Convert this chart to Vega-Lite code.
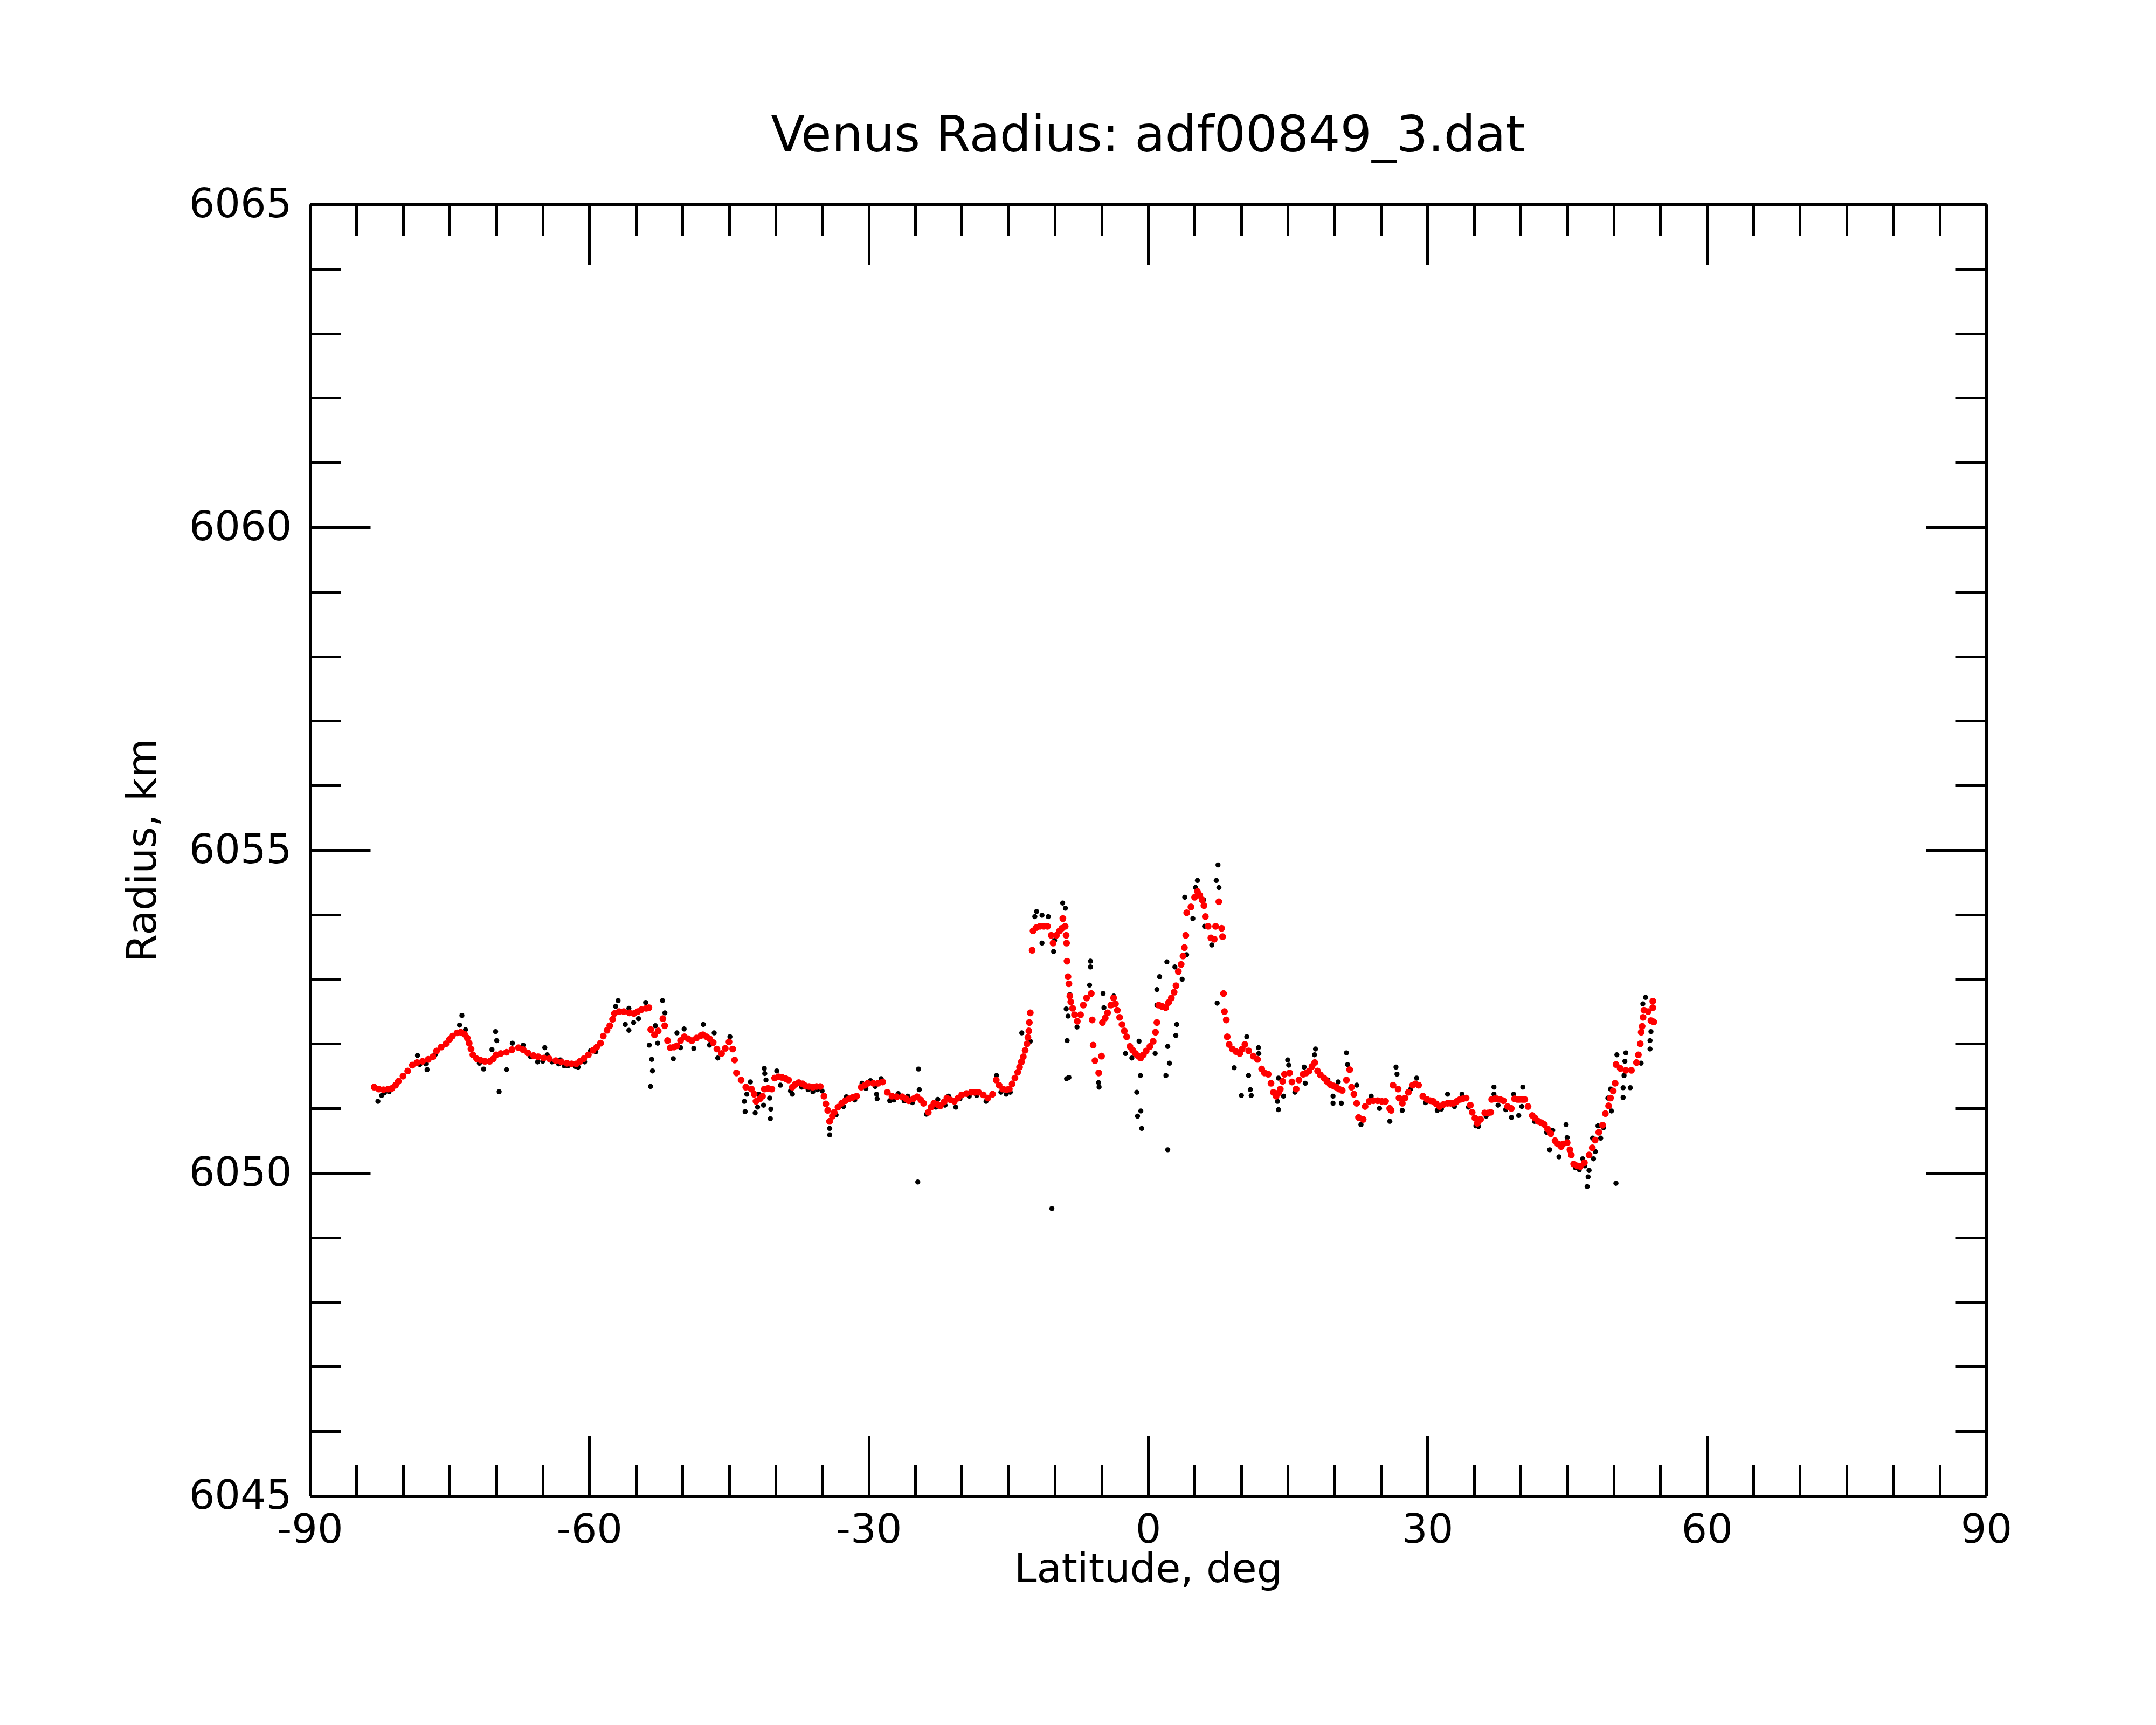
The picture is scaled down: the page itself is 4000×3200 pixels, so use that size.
{
  "$schema": "https://vega.github.io/schema/vega-lite/v6.json",
  "autosize": {"type": "none"},
  "width": 3110,
  "height": 2396,
  "padding": {"left": 575, "top": 379, "right": 315, "bottom": 425},
  "background": "white",
  "title": {"text": "Venus Radius: adf00849_3.dat", "font": "DejaVu Sans", "fontSize": 92, "fontWeight": "normal", "color": "black", "anchor": "middle", "baseline": "alphabetic", "offset": -31},
  "datasets": {
    "raw": [
      {"lat": -82.7, "radius": 6051.11}, {"lat": -82.3, "radius": 6051.2}, {"lat": -82.0, "radius": 6051.24}, {"lat": -81.5, "radius": 6051.26},
      {"lat": -78.45, "radius": 6051.82}, {"lat": -77.55, "radius": 6051.69}, {"lat": -77.42, "radius": 6051.6}, {"lat": -78.2, "radius": 6051.68},
      {"lat": -76.5, "radius": 6051.84}, {"lat": -73.68, "radius": 6052.44}, {"lat": -73.93, "radius": 6052.29}, {"lat": -73.29, "radius": 6052.22},
      {"lat": -71.35, "radius": 6051.61}, {"lat": -71.8, "radius": 6051.7}, {"lat": -70.06, "radius": 6052.19}, {"lat": -69.94, "radius": 6052.05},
      {"lat": -70.45, "radius": 6051.91}, {"lat": -69.68, "radius": 6051.26}, {"lat": -68.9, "radius": 6051.6}, {"lat": -68.26, "radius": 6052.01},
      {"lat": -67.1, "radius": 6051.98}, {"lat": -64.78, "radius": 6051.94}, {"lat": -64.52, "radius": 6051.83}, {"lat": -65.55, "radius": 6051.72},
      {"lat": -63.1, "radius": 6051.75}, {"lat": -62.3, "radius": 6051.66}, {"lat": -61.5, "radius": 6051.65}, {"lat": -59.88, "radius": 6051.89},
      {"lat": -56.91, "radius": 6052.67}, {"lat": -57.17, "radius": 6052.58}, {"lat": -56.14, "radius": 6052.3}, {"lat": -55.75, "radius": 6052.21},
      {"lat": -55.75, "radius": 6052.55}, {"lat": -55.24, "radius": 6052.33}, {"lat": -54.72, "radius": 6052.39}, {"lat": -53.95, "radius": 6052.64},
      {"lat": -53.56, "radius": 6051.98}, {"lat": -53.3, "radius": 6051.76}, {"lat": -53.22, "radius": 6051.58}, {"lat": -53.43, "radius": 6051.34},
      {"lat": -52.14, "radius": 6052.67}, {"lat": -51.88, "radius": 6052.48}, {"lat": -52.66, "radius": 6052.01}, {"lat": -52.91, "radius": 6052.28},
      {"lat": -50.98, "radius": 6051.77}, {"lat": -50.59, "radius": 6052.17}, {"lat": -49.82, "radius": 6052.23}, {"lat": -50.2, "radius": 6051.94},
      {"lat": -48.78, "radius": 6051.93}, {"lat": -47.76, "radius": 6052.3}, {"lat": -46.98, "radius": 6052.0}, {"lat": -46.59, "radius": 6052.17},
      {"lat": -46.21, "radius": 6051.78}, {"lat": -47.09, "radius": 6051.98}, {"lat": -44.9, "radius": 6052.11},
      {"lat": -43.35, "radius": 6051.11}, {"lat": -43.27, "radius": 6050.95}, {"lat": -43.09, "radius": 6051.22}, {"lat": -42.7, "radius": 6051.41},
      {"lat": -42.19, "radius": 6050.93}, {"lat": -41.93, "radius": 6051.02}, {"lat": -41.8, "radius": 6051.22}, {"lat": -41.29, "radius": 6051.05},
      {"lat": -41.21, "radius": 6051.62}, {"lat": -41.16, "radius": 6051.54}, {"lat": -41.03, "radius": 6051.44}, {"lat": -40.64, "radius": 6051.16},
      {"lat": -40.56, "radius": 6050.84}, {"lat": -40.51, "radius": 6050.99}, {"lat": -39.87, "radius": 6051.58}, {"lat": -39.48, "radius": 6051.36},
      {"lat": -38.19, "radius": 6051.22}, {"lat": -35.99, "radius": 6051.26}, {"lat": -34.19, "radius": 6050.69}, {"lat": -34.19, "radius": 6050.59},
      {"lat": -32.39, "radius": 6051.18}, {"lat": -30.71, "radius": 6051.39}, {"lat": -29.81, "radius": 6051.43}, {"lat": -29.16, "radius": 6051.22},
      {"lat": -29.09, "radius": 6051.15}, {"lat": -28.65, "radius": 6051.46}, {"lat": -27.74, "radius": 6051.12}, {"lat": -26.84, "radius": 6051.23},
      {"lat": -25.81, "radius": 6051.19}, {"lat": -24.65, "radius": 6051.61}, {"lat": -24.57, "radius": 6051.29}, {"lat": -24.73, "radius": 6049.86},
      {"lat": -22.58, "radius": 6051.14}, {"lat": -21.42, "radius": 6051.19}, {"lat": -20.65, "radius": 6051.02}, {"lat": -16.27, "radius": 6051.51},
      {"lat": -15.23, "radius": 6051.22}, {"lat": -13.56, "radius": 6052.17}, {"lat": -12.65, "radius": 6052.04}, {"lat": -10.33, "radius": 6049.45},
      {"lat": -11.97, "radius": 6054.05}, {"lat": -11.39, "radius": 6053.99}, {"lat": -10.72, "radius": 6053.97}, {"lat": -12.16, "radius": 6053.97},
      {"lat": -9.17, "radius": 6054.18}, {"lat": -8.88, "radius": 6054.1}, {"lat": -11.39, "radius": 6053.56}, {"lat": -10.14, "radius": 6053.43},
      {"lat": -10.04, "radius": 6053.6}, {"lat": -8.69, "radius": 6052.05}, {"lat": -8.59, "radius": 6052.43}, {"lat": -8.5, "radius": 6051.48},
      {"lat": -8.75, "radius": 6051.46}, {"lat": -8.79, "radius": 6052.54}, {"lat": -8.4, "radius": 6052.76}, {"lat": -7.63, "radius": 6052.26},
      {"lat": -6.18, "radius": 6053.28}, {"lat": -6.18, "radius": 6053.19}, {"lat": -6.28, "radius": 6052.91}, {"lat": -5.31, "radius": 6051.4},
      {"lat": -5.26, "radius": 6051.33}, {"lat": -4.83, "radius": 6052.78}, {"lat": -4.74, "radius": 6052.56}, {"lat": -3.68, "radius": 6052.74},
      {"lat": -2.42, "radius": 6051.85}, {"lat": -1.74, "radius": 6051.78}, {"lat": -0.97, "radius": 6052.04}, {"lat": -0.82, "radius": 6051.51},
      {"lat": -1.21, "radius": 6051.25}, {"lat": -0.78, "radius": 6050.96}, {"lat": -1.13, "radius": 6050.88}, {"lat": -0.68, "radius": 6050.69},
      {"lat": 0.76, "radius": 6051.85}, {"lat": 0.95, "radius": 6052.6}, {"lat": 0.95, "radius": 6052.84}, {"lat": 1.24, "radius": 6053.04},
      {"lat": 2.02, "radius": 6053.27}, {"lat": 2.11, "radius": 6051.96}, {"lat": 2.3, "radius": 6051.7}, {"lat": 1.92, "radius": 6051.51},
      {"lat": 2.11, "radius": 6050.36}, {"lat": 2.88, "radius": 6053.19}, {"lat": 3.08, "radius": 6052.3}, {"lat": 2.98, "radius": 6052.13},
      {"lat": 3.66, "radius": 6053.0}, {"lat": 3.94, "radius": 6054.27}, {"lat": 4.14, "radius": 6053.38}, {"lat": 4.81, "radius": 6053.94},
      {"lat": 5.1, "radius": 6054.42}, {"lat": 5.3, "radius": 6054.53}, {"lat": 5.97, "radius": 6054.23}, {"lat": 6.07, "radius": 6053.82},
      {"lat": 6.84, "radius": 6053.53}, {"lat": 7.32, "radius": 6054.53}, {"lat": 7.51, "radius": 6054.77}, {"lat": 7.61, "radius": 6054.42},
      {"lat": 7.42, "radius": 6052.63}, {"lat": 10.6, "radius": 6052.11}, {"lat": 11.85, "radius": 6051.94}, {"lat": 9.25, "radius": 6051.63},
      {"lat": 10.02, "radius": 6051.2}, {"lat": 11.08, "radius": 6051.2}, {"lat": 10.98, "radius": 6051.29}, {"lat": 10.79, "radius": 6051.51},
      {"lat": 11.89, "radius": 6051.85}, {"lat": 14.99, "radius": 6051.75}, {"lat": 15.1, "radius": 6051.67}, {"lat": 14.0, "radius": 6051.47},
      {"lat": 13.89, "radius": 6051.11}, {"lat": 14.0, "radius": 6050.98}, {"lat": 14.55, "radius": 6051.19}, {"lat": 15.77, "radius": 6051.25},
      {"lat": 16.76, "radius": 6051.64}, {"lat": 16.88, "radius": 6051.39}, {"lat": 17.98, "radius": 6051.92}, {"lat": 17.87, "radius": 6051.83},
      {"lat": 19.31, "radius": 6051.44}, {"lat": 19.86, "radius": 6051.19}, {"lat": 19.86, "radius": 6051.08}, {"lat": 20.42, "radius": 6051.41},
      {"lat": 20.75, "radius": 6051.08}, {"lat": 21.3, "radius": 6051.86}, {"lat": 21.42, "radius": 6051.68}, {"lat": 22.41, "radius": 6051.36},
      {"lat": 22.86, "radius": 6050.75}, {"lat": 23.96, "radius": 6051.19}, {"lat": 24.85, "radius": 6051.0}, {"lat": 25.96, "radius": 6050.8},
      {"lat": 26.62, "radius": 6051.64}, {"lat": 26.73, "radius": 6051.53}, {"lat": 27.29, "radius": 6050.97}, {"lat": 28.84, "radius": 6051.47},
      {"lat": 31.05, "radius": 6050.97}, {"lat": 32.16, "radius": 6051.22}, {"lat": 33.71, "radius": 6051.22}, {"lat": 35.48, "radius": 6050.72},
      {"lat": 37.14, "radius": 6051.33}, {"lat": 37.14, "radius": 6051.22}, {"lat": 37.58, "radius": 6051.05}, {"lat": 39.02, "radius": 6050.86},
      {"lat": 39.25, "radius": 6051.22}, {"lat": 39.8, "radius": 6050.89}, {"lat": 40.24, "radius": 6051.33}, {"lat": 40.13, "radius": 6051.03},
      {"lat": 42.35, "radius": 6050.77}, {"lat": 43.45, "radius": 6050.66}, {"lat": 43.12, "radius": 6050.36}, {"lat": 44.89, "radius": 6050.75},
      {"lat": 45.0, "radius": 6050.55}, {"lat": 44.12, "radius": 6050.25}, {"lat": 45.89, "radius": 6050.08}, {"lat": 45.99, "radius": 6050.1},
      {"lat": 46.67, "radius": 6050.22}, {"lat": 47.35, "radius": 6050.04}, {"lat": 47.25, "radius": 6049.94}, {"lat": 47.15, "radius": 6049.79},
      {"lat": 50.24, "radius": 6049.84}, {"lat": 47.83, "radius": 6050.22}, {"lat": 48.02, "radius": 6050.33}, {"lat": 47.73, "radius": 6050.54},
      {"lat": 48.6, "radius": 6050.54}, {"lat": 48.31, "radius": 6050.73}, {"lat": 49.76, "radius": 6050.96}, {"lat": 49.37, "radius": 6051.16},
      {"lat": 49.66, "radius": 6051.3}, {"lat": 51.01, "radius": 6051.17}, {"lat": 51.01, "radius": 6051.32}, {"lat": 51.78, "radius": 6051.32},
      {"lat": 51.11, "radius": 6051.51}, {"lat": 50.34, "radius": 6051.83}, {"lat": 51.3, "radius": 6051.86}, {"lat": 51.2, "radius": 6051.73},
      {"lat": 52.94, "radius": 6051.7}, {"lat": 53.9, "radius": 6051.92}, {"lat": 53.9, "radius": 6052.05}, {"lat": 54.0, "radius": 6052.19},
      {"lat": 53.42, "radius": 6052.72}, {"lat": 53.13, "radius": 6052.62},
      {"lat": -66.3, "radius": 6051.8}, {"lat": -65.0, "radius": 6051.73}, {"lat": -64.0, "radius": 6051.72}, {"lat": -63.3, "radius": 6051.69},
      {"lat": -62.7, "radius": 6051.66}, {"lat": -61.2, "radius": 6051.64}, {"lat": -60.5, "radius": 6051.72}, {"lat": -59.3, "radius": 6051.88},
      {"lat": -38.4, "radius": 6051.27}, {"lat": -37.2, "radius": 6051.33}, {"lat": -36.5, "radius": 6051.29}, {"lat": -35.5, "radius": 6051.29},
      {"lat": -35.0, "radius": 6051.27}, {"lat": -33.5, "radius": 6050.9}, {"lat": -32.7, "radius": 6051.03}, {"lat": -31.5, "radius": 6051.13},
      {"lat": -30.3, "radius": 6051.31}, {"lat": -29.3, "radius": 6051.34}, {"lat": -27.3, "radius": 6051.13}, {"lat": -26.2, "radius": 6051.12},
      {"lat": -25.3, "radius": 6051.09}, {"lat": -23.8, "radius": 6050.91}, {"lat": -22.8, "radius": 6051.02}, {"lat": -21.8, "radius": 6051.05},
      {"lat": -20.2, "radius": 6051.15}, {"lat": -19.2, "radius": 6051.19}, {"lat": -18.4, "radius": 6051.2}, {"lat": -17.4, "radius": 6051.11},
      {"lat": -15.8, "radius": 6051.25}, {"lat": -14.8, "radius": 6051.25}, {"lat": 28.2, "radius": 6051.3}, {"lat": 29.8, "radius": 6051.09},
      {"lat": 31.5, "radius": 6050.99}, {"lat": 32.9, "radius": 6051.03}, {"lat": 34.4, "radius": 6051.02}, {"lat": 35.2, "radius": 6050.73},
      {"lat": 36.3, "radius": 6050.88}, {"lat": 38.4, "radius": 6050.98}, {"lat": 41.5, "radius": 6050.8}, {"lat": 42.8, "radius": 6050.63},
      {"lat": 46.3, "radius": 6050.05}, {"lat": 46.9, "radius": 6050.11}, {"lat": 48.9, "radius": 6050.7}
    ],
    "smooth": [
      {"lat": -83.1, "radius": 6051.33}, {"lat": -82.6, "radius": 6051.3}, {"lat": -82.1, "radius": 6051.29}, {"lat": -81.6, "radius": 6051.3},
      {"lat": -81.2, "radius": 6051.31}, {"lat": -80.8, "radius": 6051.36}, {"lat": -80.5, "radius": 6051.42}, {"lat": -80.0, "radius": 6051.5},
      {"lat": -79.5, "radius": 6051.58}, {"lat": -79.0, "radius": 6051.67}, {"lat": -78.5, "radius": 6051.71}, {"lat": -77.9, "radius": 6051.73},
      {"lat": -77.3, "radius": 6051.76}, {"lat": -76.8, "radius": 6051.8}, {"lat": -76.4, "radius": 6051.89}, {"lat": -75.9, "radius": 6051.95},
      {"lat": -75.4, "radius": 6052.0}, {"lat": -75.0, "radius": 6052.07}, {"lat": -74.7, "radius": 6052.12}, {"lat": -74.2, "radius": 6052.17},
      {"lat": -73.8, "radius": 6052.18}, {"lat": -73.4, "radius": 6052.15}, {"lat": -73.1, "radius": 6052.09}, {"lat": -72.9, "radius": 6052.01},
      {"lat": -72.7, "radius": 6051.92}, {"lat": -72.5, "radius": 6051.83}, {"lat": -72.1, "radius": 6051.77}, {"lat": -71.7, "radius": 6051.75},
      {"lat": -71.2, "radius": 6051.73}, {"lat": -70.7, "radius": 6051.73}, {"lat": -70.3, "radius": 6051.77}, {"lat": -70.0, "radius": 6051.83},
      {"lat": -69.5, "radius": 6051.85}, {"lat": -68.9, "radius": 6051.87}, {"lat": -68.3, "radius": 6051.91}, {"lat": -67.6, "radius": 6051.94},
      {"lat": -67.1, "radius": 6051.91}, {"lat": -66.6, "radius": 6051.86}, {"lat": -66.0, "radius": 6051.82}, {"lat": -65.5, "radius": 6051.8},
      {"lat": -64.9, "radius": 6051.78}, {"lat": -64.3, "radius": 6051.77}, {"lat": -63.6, "radius": 6051.74}, {"lat": -63.0, "radius": 6051.72},
      {"lat": -62.4, "radius": 6051.7}, {"lat": -61.9, "radius": 6051.69}, {"lat": -61.4, "radius": 6051.69}, {"lat": -61.0, "radius": 6051.73},
      {"lat": -60.6, "radius": 6051.77}, {"lat": -60.1, "radius": 6051.83}, {"lat": -59.6, "radius": 6051.9}, {"lat": -59.2, "radius": 6051.95},
      {"lat": -58.8, "radius": 6052.01}, {"lat": -58.5, "radius": 6052.12}, {"lat": -58.1, "radius": 6052.21}, {"lat": -57.8, "radius": 6052.28},
      {"lat": -57.5, "radius": 6052.38}, {"lat": -57.3, "radius": 6052.47}, {"lat": -56.8, "radius": 6052.5}, {"lat": -56.3, "radius": 6052.5},
      {"lat": -55.7, "radius": 6052.48}, {"lat": -55.2, "radius": 6052.47}, {"lat": -54.8, "radius": 6052.5}, {"lat": -54.4, "radius": 6052.53},
      {"lat": -53.9, "radius": 6052.55}, {"lat": -53.6, "radius": 6052.56}, {"lat": -53.4, "radius": 6052.22}, {"lat": -53.0, "radius": 6052.14},
      {"lat": -52.6, "radius": 6052.2}, {"lat": -52.1, "radius": 6052.39}, {"lat": -51.9, "radius": 6052.28}, {"lat": -51.6, "radius": 6052.05},
      {"lat": -51.3, "radius": 6051.94}, {"lat": -50.9, "radius": 6051.95}, {"lat": -50.6, "radius": 6051.97}, {"lat": -50.2, "radius": 6052.05},
      {"lat": -49.8, "radius": 6052.11}, {"lat": -49.4, "radius": 6052.08}, {"lat": -49.0, "radius": 6052.05}, {"lat": -48.5, "radius": 6052.09},
      {"lat": -48.0, "radius": 6052.13}, {"lat": -47.8, "radius": 6052.14}, {"lat": -47.4, "radius": 6052.11}, {"lat": -47.1, "radius": 6052.08},
      {"lat": -46.7, "radius": 6052.02}, {"lat": -46.3, "radius": 6051.92}, {"lat": -45.8, "radius": 6051.85}, {"lat": -45.4, "radius": 6051.93},
      {"lat": -45.0, "radius": 6052.03}, {"lat": -44.6, "radius": 6051.92}, {"lat": -44.4, "radius": 6051.75}, {"lat": -44.2, "radius": 6051.55},
      {"lat": -43.7, "radius": 6051.44}, {"lat": -43.2, "radius": 6051.33}, {"lat": -42.6, "radius": 6051.3}, {"lat": -42.3, "radius": 6051.22},
      {"lat": -42.1, "radius": 6051.11}, {"lat": -41.7, "radius": 6051.15}, {"lat": -41.4, "radius": 6051.19}, {"lat": -41.2, "radius": 6051.3},
      {"lat": -40.8, "radius": 6051.31}, {"lat": -40.4, "radius": 6051.3}, {"lat": -40.1, "radius": 6051.47}, {"lat": -39.7, "radius": 6051.49},
      {"lat": -39.3, "radius": 6051.48}, {"lat": -38.9, "radius": 6051.46}, {"lat": -38.6, "radius": 6051.44}, {"lat": -38.2, "radius": 6051.33},
      {"lat": -37.9, "radius": 6051.37}, {"lat": -37.5, "radius": 6051.4}, {"lat": -37.1, "radius": 6051.38}, {"lat": -36.8, "radius": 6051.35},
      {"lat": -36.4, "radius": 6051.34}, {"lat": -36.0, "radius": 6051.33}, {"lat": -35.6, "radius": 6051.34}, {"lat": -35.2, "radius": 6051.34},
      {"lat": -34.8, "radius": 6051.19}, {"lat": -34.6, "radius": 6051.07}, {"lat": -34.4, "radius": 6050.97}, {"lat": -34.2, "radius": 6050.8},
      {"lat": -33.9, "radius": 6050.88}, {"lat": -33.7, "radius": 6050.94}, {"lat": -33.3, "radius": 6051.02}, {"lat": -32.9, "radius": 6051.08},
      {"lat": -32.5, "radius": 6051.12}, {"lat": -32.1, "radius": 6051.15}, {"lat": -31.7, "radius": 6051.17}, {"lat": -31.3, "radius": 6051.19},
      {"lat": -30.8, "radius": 6051.33}, {"lat": -30.4, "radius": 6051.36}, {"lat": -30.1, "radius": 6051.39}, {"lat": -29.5, "radius": 6051.39},
      {"lat": -29.0, "radius": 6051.39}, {"lat": -28.5, "radius": 6051.41}, {"lat": -28.0, "radius": 6051.25}, {"lat": -27.5, "radius": 6051.19},
      {"lat": -27.0, "radius": 6051.18}, {"lat": -26.4, "radius": 6051.18}, {"lat": -26.0, "radius": 6051.15}, {"lat": -25.7, "radius": 6051.12},
      {"lat": -25.2, "radius": 6051.15}, {"lat": -24.8, "radius": 6051.18}, {"lat": -24.4, "radius": 6051.13}, {"lat": -24.1, "radius": 6051.08},
      {"lat": -23.6, "radius": 6050.94}, {"lat": -23.3, "radius": 6051.02}, {"lat": -23.0, "radius": 6051.08}, {"lat": -22.6, "radius": 6051.06},
      {"lat": -22.3, "radius": 6051.04}, {"lat": -21.9, "radius": 6051.1}, {"lat": -21.6, "radius": 6051.16}, {"lat": -21.2, "radius": 6051.13},
      {"lat": -20.8, "radius": 6051.11}, {"lat": -20.4, "radius": 6051.16}, {"lat": -20.0, "radius": 6051.21}, {"lat": -19.5, "radius": 6051.23},
      {"lat": -19.0, "radius": 6051.25}, {"lat": -18.6, "radius": 6051.25}, {"lat": -18.2, "radius": 6051.25}, {"lat": -17.7, "radius": 6051.21},
      {"lat": -17.2, "radius": 6051.16}, {"lat": -16.7, "radius": 6051.22}, {"lat": -16.3, "radius": 6051.44}, {"lat": -16.0, "radius": 6051.36},
      {"lat": -15.6, "radius": 6051.3}, {"lat": -15.2, "radius": 6051.29}, {"lat": -14.9, "radius": 6051.3}, {"lat": -14.6, "radius": 6051.38},
      {"lat": -14.3, "radius": 6051.47}, {"lat": -14.0, "radius": 6051.56}, {"lat": -13.8, "radius": 6051.64}, {"lat": -13.6, "radius": 6051.72},
      {"lat": -13.4, "radius": 6051.8}, {"lat": -13.2, "radius": 6051.9}, {"lat": -13.0, "radius": 6052.0}, {"lat": -12.9, "radius": 6052.1},
      {"lat": -12.8, "radius": 6052.2}, {"lat": -12.75, "radius": 6052.33}, {"lat": -12.65, "radius": 6052.48},
      {"lat": -12.45, "radius": 6053.45}, {"lat": -12.35, "radius": 6053.75}, {"lat": -12.0, "radius": 6053.8}, {"lat": -11.6, "radius": 6053.82},
      {"lat": -11.2, "radius": 6053.82}, {"lat": -10.8, "radius": 6053.82}, {"lat": -10.4, "radius": 6053.68}, {"lat": -10.2, "radius": 6053.56},
      {"lat": -9.85, "radius": 6053.68}, {"lat": -9.5, "radius": 6053.75}, {"lat": -9.25, "radius": 6053.79}, {"lat": -9.15, "radius": 6053.94},
      {"lat": -8.9, "radius": 6053.82}, {"lat": -8.8, "radius": 6053.68}, {"lat": -8.75, "radius": 6053.56}, {"lat": -8.7, "radius": 6053.28},
      {"lat": -8.6, "radius": 6053.04}, {"lat": -8.5, "radius": 6052.93}, {"lat": -8.4, "radius": 6052.74}, {"lat": -8.3, "radius": 6052.65},
      {"lat": -8.1, "radius": 6052.55}, {"lat": -7.9, "radius": 6052.45}, {"lat": -7.6, "radius": 6052.35}, {"lat": -7.25, "radius": 6052.45},
      {"lat": -6.95, "radius": 6052.6}, {"lat": -6.6, "radius": 6052.71}, {"lat": -6.1, "radius": 6052.78}, {"lat": -6.0, "radius": 6052.37},
      {"lat": -5.9, "radius": 6051.98}, {"lat": -5.7, "radius": 6051.74}, {"lat": -5.3, "radius": 6051.55}, {"lat": -5.0, "radius": 6051.81},
      {"lat": -4.9, "radius": 6052.33}, {"lat": -4.6, "radius": 6052.4}, {"lat": -4.35, "radius": 6052.48}, {"lat": -4.0, "radius": 6052.6},
      {"lat": -3.7, "radius": 6052.71}, {"lat": -3.5, "radius": 6052.62}, {"lat": -3.3, "radius": 6052.52}, {"lat": -3.05, "radius": 6052.41},
      {"lat": -2.8, "radius": 6052.3}, {"lat": -2.55, "radius": 6052.2}, {"lat": -2.3, "radius": 6052.11}, {"lat": -1.95, "radius": 6051.96},
      {"lat": -1.65, "radius": 6051.9}, {"lat": -1.35, "radius": 6051.85}, {"lat": -1.05, "radius": 6051.81}, {"lat": -0.8, "radius": 6051.78},
      {"lat": -0.5, "radius": 6051.83}, {"lat": -0.2, "radius": 6051.89}, {"lat": 0.2, "radius": 6051.96}, {"lat": 0.55, "radius": 6052.04},
      {"lat": 0.8, "radius": 6052.18}, {"lat": 0.95, "radius": 6052.33}, {"lat": 1.15, "radius": 6052.6}, {"lat": 1.5, "radius": 6052.58},
      {"lat": 1.9, "radius": 6052.56}, {"lat": 2.2, "radius": 6052.64}, {"lat": 2.5, "radius": 6052.71}, {"lat": 2.8, "radius": 6052.8},
      {"lat": 3.0, "radius": 6052.9}, {"lat": 3.25, "radius": 6053.12}, {"lat": 3.55, "radius": 6053.23}, {"lat": 3.75, "radius": 6053.36},
      {"lat": 3.9, "radius": 6053.49}, {"lat": 4.05, "radius": 6053.68}, {"lat": 4.15, "radius": 6054.03}, {"lat": 4.6, "radius": 6054.12},
      {"lat": 5.0, "radius": 6054.27}, {"lat": 5.3, "radius": 6054.36}, {"lat": 5.55, "radius": 6054.3}, {"lat": 5.8, "radius": 6054.23},
      {"lat": 6.0, "radius": 6054.14}, {"lat": 6.15, "radius": 6053.97}, {"lat": 6.45, "radius": 6053.82}, {"lat": 6.75, "radius": 6053.64},
      {"lat": 7.1, "radius": 6053.62}, {"lat": 7.25, "radius": 6053.82}, {"lat": 7.6, "radius": 6054.2}, {"lat": 7.9, "radius": 6053.79},
      {"lat": 8.0, "radius": 6053.66}, {"lat": 8.1, "radius": 6052.78}, {"lat": 8.2, "radius": 6052.5}, {"lat": 8.4, "radius": 6052.37},
      {"lat": 8.5, "radius": 6052.11}, {"lat": 8.7, "radius": 6051.99}, {"lat": 9.05, "radius": 6051.92}, {"lat": 9.45, "radius": 6051.88},
      {"lat": 9.85, "radius": 6051.85}, {"lat": 10.1, "radius": 6051.92}, {"lat": 10.4, "radius": 6051.99}, {"lat": 10.8, "radius": 6051.89},
      {"lat": 11.3, "radius": 6051.81}, {"lat": 11.75, "radius": 6051.76}, {"lat": 12.2, "radius": 6051.61}, {"lat": 12.5, "radius": 6051.55},
      {"lat": 12.9, "radius": 6051.53}, {"lat": 13.2, "radius": 6051.39}, {"lat": 13.45, "radius": 6051.25}, {"lat": 13.75, "radius": 6051.19},
      {"lat": 14.0, "radius": 6051.24}, {"lat": 14.2, "radius": 6051.3}, {"lat": 14.45, "radius": 6051.42}, {"lat": 14.65, "radius": 6051.53},
      {"lat": 15.2, "radius": 6051.55}, {"lat": 15.45, "radius": 6051.41}, {"lat": 15.9, "radius": 6051.3}, {"lat": 16.2, "radius": 6051.44},
      {"lat": 16.65, "radius": 6051.53}, {"lat": 17.0, "radius": 6051.55}, {"lat": 17.3, "radius": 6051.58}, {"lat": 17.6, "radius": 6051.65},
      {"lat": 17.9, "radius": 6051.71}, {"lat": 18.2, "radius": 6051.58}, {"lat": 18.5, "radius": 6051.52}, {"lat": 18.9, "radius": 6051.47},
      {"lat": 19.2, "radius": 6051.42}, {"lat": 19.55, "radius": 6051.37}, {"lat": 19.9, "radius": 6051.35}, {"lat": 20.2, "radius": 6051.33},
      {"lat": 20.5, "radius": 6051.3}, {"lat": 20.85, "radius": 6051.28}, {"lat": 21.3, "radius": 6051.44}, {"lat": 21.65, "radius": 6051.6},
      {"lat": 21.85, "radius": 6051.33}, {"lat": 22.1, "radius": 6051.22}, {"lat": 22.4, "radius": 6051.08}, {"lat": 22.6, "radius": 6050.86},
      {"lat": 23.1, "radius": 6050.83}, {"lat": 23.3, "radius": 6051.03}, {"lat": 23.75, "radius": 6051.11}, {"lat": 24.2, "radius": 6051.12},
      {"lat": 24.65, "radius": 6051.12}, {"lat": 25.1, "radius": 6051.11}, {"lat": 25.5, "radius": 6051.11}, {"lat": 25.95, "radius": 6051.0},
      {"lat": 26.1, "radius": 6050.97}, {"lat": 26.3, "radius": 6051.36}, {"lat": 26.85, "radius": 6051.3}, {"lat": 26.95, "radius": 6051.16},
      {"lat": 27.3, "radius": 6051.08}, {"lat": 27.6, "radius": 6051.16}, {"lat": 27.95, "radius": 6051.25}, {"lat": 28.4, "radius": 6051.36},
      {"lat": 28.7, "radius": 6051.38}, {"lat": 29.05, "radius": 6051.36}, {"lat": 29.5, "radius": 6051.19}, {"lat": 29.95, "radius": 6051.14},
      {"lat": 30.3, "radius": 6051.12}, {"lat": 30.6, "radius": 6051.11}, {"lat": 30.95, "radius": 6051.07}, {"lat": 31.3, "radius": 6051.03},
      {"lat": 31.7, "radius": 6051.06}, {"lat": 32.15, "radius": 6051.08}, {"lat": 32.5, "radius": 6051.08}, {"lat": 32.8, "radius": 6051.08},
      {"lat": 33.15, "radius": 6051.11}, {"lat": 33.5, "radius": 6051.14}, {"lat": 33.8, "radius": 6051.15}, {"lat": 34.15, "radius": 6051.16},
      {"lat": 34.6, "radius": 6051.05}, {"lat": 34.8, "radius": 6050.94}, {"lat": 35.1, "radius": 6050.85}, {"lat": 35.35, "radius": 6050.77},
      {"lat": 35.7, "radius": 6050.83}, {"lat": 36.15, "radius": 6050.93}, {"lat": 36.5, "radius": 6050.93}, {"lat": 36.8, "radius": 6050.94},
      {"lat": 36.9, "radius": 6051.14}, {"lat": 37.2, "radius": 6051.15}, {"lat": 37.45, "radius": 6051.15}, {"lat": 37.8, "radius": 6051.14},
      {"lat": 38.15, "radius": 6051.12}, {"lat": 38.6, "radius": 6051.03}, {"lat": 39.0, "radius": 6051.0}, {"lat": 39.35, "radius": 6051.15},
      {"lat": 39.65, "radius": 6051.14}, {"lat": 39.9, "radius": 6051.14}, {"lat": 40.2, "radius": 6051.14}, {"lat": 40.45, "radius": 6051.14},
      {"lat": 40.8, "radius": 6051.03}, {"lat": 41.25, "radius": 6050.89}, {"lat": 41.55, "radius": 6050.85}, {"lat": 41.9, "radius": 6050.8},
      {"lat": 42.2, "radius": 6050.78}, {"lat": 42.55, "radius": 6050.75}, {"lat": 42.9, "radius": 6050.68}, {"lat": 43.25, "radius": 6050.61},
      {"lat": 43.7, "radius": 6050.5}, {"lat": 44.0, "radius": 6050.45}, {"lat": 44.35, "radius": 6050.41}, {"lat": 44.55, "radius": 6050.45},
      {"lat": 45.0, "radius": 6050.47}, {"lat": 45.3, "radius": 6050.36}, {"lat": 45.45, "radius": 6050.28}, {"lat": 45.7, "radius": 6050.14},
      {"lat": 46.1, "radius": 6050.11}, {"lat": 46.4, "radius": 6050.1}, {"lat": 46.85, "radius": 6050.16}, {"lat": 47.35, "radius": 6050.28},
      {"lat": 47.7, "radius": 6050.39}, {"lat": 48.0, "radius": 6050.51}, {"lat": 48.4, "radius": 6050.63}, {"lat": 48.8, "radius": 6050.74},
      {"lat": 49.1, "radius": 6050.92}, {"lat": 49.45, "radius": 6051.04}, {"lat": 49.65, "radius": 6051.16}, {"lat": 49.95, "radius": 6051.27},
      {"lat": 50.15, "radius": 6051.39}, {"lat": 50.25, "radius": 6051.68}, {"lat": 50.7, "radius": 6051.62}, {"lat": 51.3, "radius": 6051.59},
      {"lat": 51.9, "radius": 6051.59}, {"lat": 52.45, "radius": 6051.71}, {"lat": 52.65, "radius": 6051.83}, {"lat": 52.85, "radius": 6052.0},
      {"lat": 52.95, "radius": 6052.18}, {"lat": 53.05, "radius": 6052.27}, {"lat": 53.15, "radius": 6052.41}, {"lat": 53.25, "radius": 6052.52},
      {"lat": 53.7, "radius": 6052.5}, {"lat": 54.2, "radius": 6052.56}, {"lat": 54.2, "radius": 6052.66}, {"lat": 54.0, "radius": 6052.36},
      {"lat": 54.3, "radius": 6052.34}
    ]
  },
  "layer": [
    {
      "data": {"name": "raw"},
      "mark": {"type": "point", "filled": true, "shape": "circle", "size": 90, "color": "black", "opacity": 1, "strokeWidth": 0},
      "encoding": {
        "x": {
          "field": "lat", "type": "quantitative",
          "scale": {"domain": [-90, 90], "nice": false, "zero": false},
          "axis": {
            "orient": "bottom", "title": "Latitude, deg", "grid": false,
            "values": [-90, -85, -80, -75, -70, -65, -60, -55, -50, -45, -40, -35, -30, -25, -20, -15, -10, -5, 0, 5, 10, 15, 20, 25, 30, 35, 40, 45, 50, 55, 60, 65, 70, 75, 80, 85, 90],
            "labelExpr": "datum.value % 30 === 0 ? '' + datum.value : ''",
            "tickSize": {"condition": {"test": "datum.value % 30 === 0", "value": -112}, "value": -58},
            "labelPadding": 139, "labelFlush": false, "labelOverlap": false, "labelBound": false, "labelLimit": 0,
            "titleBaseline": "top", "titleY": 100
          }
        },
        "y": {
          "field": "radius", "type": "quantitative",
          "scale": {"domain": [6045, 6065], "nice": false, "zero": false},
          "axis": {
            "orient": "left", "title": "Radius, km", "grid": false,
            "values": [6045, 6046, 6047, 6048, 6049, 6050, 6051, 6052, 6053, 6054, 6055, 6056, 6057, 6058, 6059, 6060, 6061, 6062, 6063, 6064, 6065],
            "labelExpr": "datum.value % 5 === 0 ? '' + datum.value : ''",
            "tickSize": {"condition": {"test": "datum.value % 5 === 0", "value": -112}, "value": -57},
            "labelPadding": 146, "labelFlush": false, "labelOverlap": false, "labelBound": false, "labelLimit": 0,
            "titleBaseline": "middle", "titleX": -310
          }
        }
      }
    },
    {
      "data": {"name": "smooth"},
      "mark": {"type": "point", "filled": true, "shape": "circle", "size": 160, "color": "#ff0000", "opacity": 1, "strokeWidth": 0},
      "encoding": {
        "x": {
          "field": "lat", "type": "quantitative",
          "scale": {"domain": [-90, 90], "nice": false, "zero": false},
          "axis": {
            "orient": "top", "title": null, "grid": false, "labels": false,
            "values": [-90, -85, -80, -75, -70, -65, -60, -55, -50, -45, -40, -35, -30, -25, -20, -15, -10, -5, 0, 5, 10, 15, 20, 25, 30, 35, 40, 45, 50, 55, 60, 65, 70, 75, 80, 85, 90],
            "tickSize": {"condition": {"test": "datum.value % 30 === 0", "value": -112}, "value": -58}
          }
        },
        "y": {
          "field": "radius", "type": "quantitative",
          "scale": {"domain": [6045, 6065], "nice": false, "zero": false},
          "axis": {
            "orient": "right", "title": null, "grid": false, "labels": false,
            "values": [6045, 6046, 6047, 6048, 6049, 6050, 6051, 6052, 6053, 6054, 6055, 6056, 6057, 6058, 6059, 6060, 6061, 6062, 6063, 6064, 6065],
            "tickSize": {"condition": {"test": "datum.value % 5 === 0", "value": -112}, "value": -57}
          }
        }
      }
    }
  ],
  "resolve": {"axis": {"x": "independent", "y": "independent"}},
  "config": {
    "view": {"stroke": null},
    "axis": {
      "domainColor": "black", "domainWidth": 5, "tickColor": "black", "tickWidth": 5,
      "labelFont": "DejaVu Sans", "labelFontSize": 75, "labelColor": "black",
      "titleFont": "DejaVu Sans", "titleFontSize": 75, "titleFontWeight": "normal", "titleColor": "black"
    }
  }
}
